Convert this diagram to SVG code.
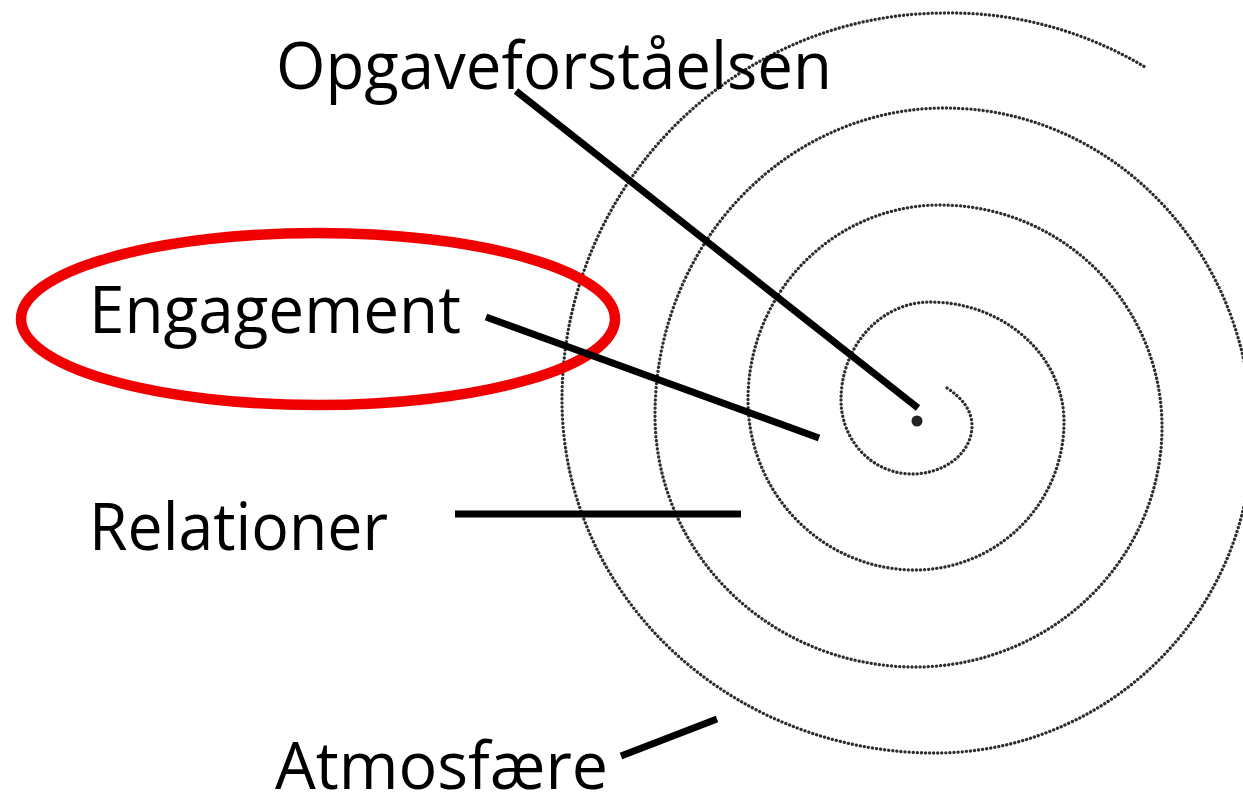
<svg xmlns="http://www.w3.org/2000/svg" width="1243" height="797" viewBox="0 0 1243 797">
  <style>
    .lbl { font-family: "Open Sans", "Noto Sans", "Liberation Sans", sans-serif; font-size: 66px; fill: #000; }
    .conn { stroke: #000; stroke-width: 7; fill: none; stroke-linecap: butt; }
    .spiral { fill: none; stroke: #2e2e2e; stroke-width: 3.3; stroke-linecap: round; stroke-dasharray: 0.1 4; }
  </style>
  <rect width="1243" height="797" fill="#fff"/>
  <g id="spiral">
    <path class="spiral" d="M947,388 C962,398 972,410 972,426
      A60 48 0 0 1 912 474
      A71 74 0 0 1 841 400
      A89 98 0 0 1 930 302
      A134 120 0 0 1 1064 422
      A149 148 0 0 1 915 570
      A167 170 0 0 1 748 400
      A192 195 0 0 1 940 205
      A222 222 0 0 1 1162 427
      A247 240 0 0 1 915 667
      A260 252 0 0 1 655 415
      A290 307 0 0 1 945 108
      A307 327 0 0 1 1252 435
      A317 318 0 0 1 935 753
      A373 353 0 0 1 562 400
      A383 387 0 0 1 945 13
      A400 427 0 0 1 1145 67"/>
    <circle cx="917" cy="421" r="5.5" fill="#222"/>
  </g>
  <g id="highlight">
    <ellipse cx="318" cy="319" rx="297" ry="86" fill="none" stroke="#f00000" stroke-width="10.5"/>
  </g>
  <g id="connectors">
    <line class="conn" x1="516" y1="91" x2="918" y2="408"/>
    <line class="conn" x1="486" y1="317" x2="819" y2="438"/>
    <line class="conn" x1="455" y1="514" x2="741" y2="514"/>
    <line class="conn" x1="621" y1="756" x2="717" y2="719"/>
  </g>
  <g id="node-opgave">
    <text class="lbl" x="276" y="89" textLength="556" lengthAdjust="spacingAndGlyphs">Opgaveforståelsen</text>
  </g>
  <g id="node-engagement">
    <text class="lbl" x="89" y="333" textLength="372" lengthAdjust="spacingAndGlyphs">Engagement</text>
  </g>
  <g id="node-relationer">
    <text class="lbl" x="89" y="550" textLength="299" lengthAdjust="spacingAndGlyphs">Relationer</text>
  </g>
  <g id="node-atmosfaere">
    <text class="lbl" x="275" y="789" textLength="333" lengthAdjust="spacingAndGlyphs">Atmosfære</text>
  </g>
</svg>
